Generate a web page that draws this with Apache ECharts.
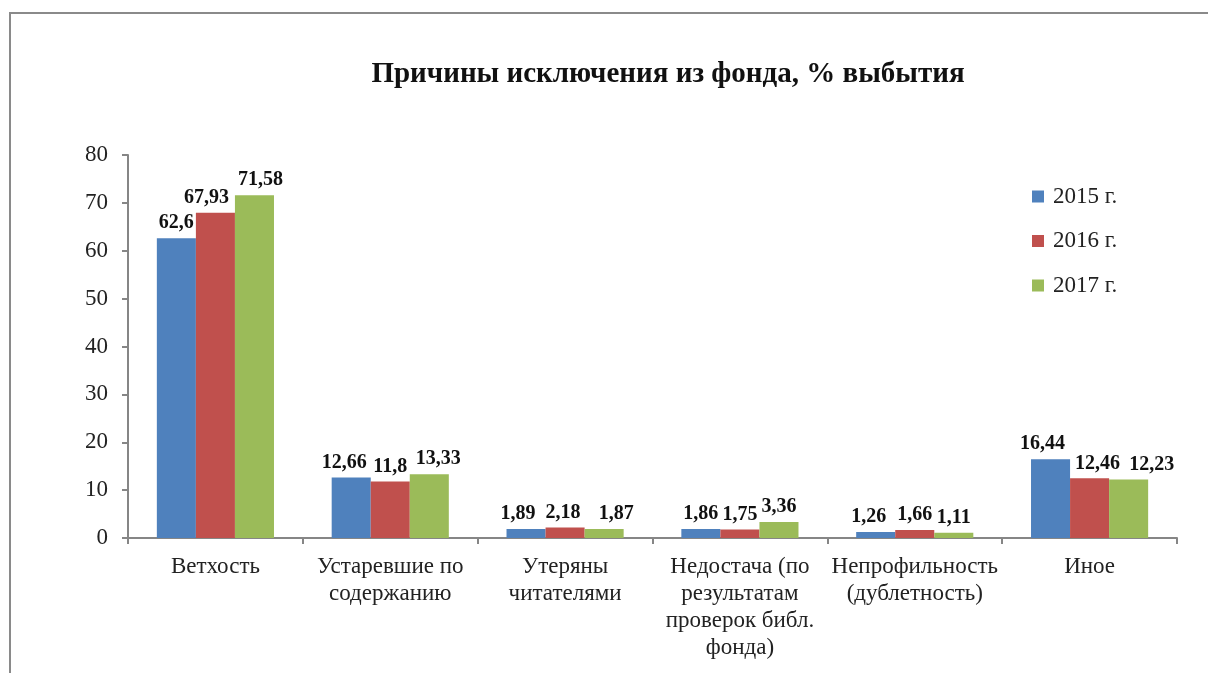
<!DOCTYPE html>
<html lang="ru">
<head>
  <meta charset="UTF-8">
  <title>Причины исключения из фонда</title>
  <script src="https://cdn.jsdelivr.net/npm/echarts@6/dist/echarts.min.js"></script>
  <style>
    html, body { margin: 0; padding: 0; background: #fff; }
    #frame { position: absolute; left: 9px; top: 12px; width: 1199px; height: 661px;
             border-left: 2px solid #8a8a8a; border-top: 2px solid #8a8a8a; box-sizing: border-box; }
    #main { position: absolute; left: 0; top: 0; width: 1208px; height: 673px; }
  </style>
</head>
<body>
  <div id="frame"></div>
  <div id="main"></div>
  <script>
    // данные графика
    const categories = [
      'Ветхость',
      'Устаревшие по\nсодержанию',
      'Утеряны\nчитателями',
      'Недостача (по\nрезультатам\nпроверок библ.\nфонда)',
      'Непрофильность\n(дублетность)',
      'Иное'
    ];
    const years = ['2015 г.', '2016 г.', '2017 г.'];
    const values2015 = [62.6, 12.66, 1.89, 1.86, 1.26, 16.44];
    const values2016 = [67.93, 11.8, 2.18, 1.75, 1.66, 12.46];
    const values2017 = [71.58, 13.33, 1.87, 3.36, 1.11, 12.23];
    const yTicks = [0, 10, 20, 30, 40, 50, 60, 70, 80];

    const colors = ['#4F81BD', '#C0504D', '#9BBB59'];
    const font = '"Liberation Serif", "Times New Roman", serif';

    // сдвиг подписей, чтобы они не наезжали друг на друга (как в исходнике)
    const labelShift = [
      [0, -7, -8, 0, -7, -8],
      [-9, 0, -2, 0, 0, 8],
      [6, 9, 12, 0, 0, 23]
    ];

    var myChart = echarts.init(document.getElementById('main'));

    const makeSeries = (name, data, i) => ({
      name: name,
      type: 'bar',
      data: data.map((v, j) => ({
        value: v,
        label: { offset: [labelShift[i][j], 0] }
      })),
      barGap: '0%',
      barCategoryGap: '33%',
      itemStyle: { color: colors[i] },
      label: {
        show: true,
        position: 'top',
        distance: 5,
        color: '#111',
        fontFamily: font,
        fontWeight: 'bold',
        fontSize: 20,
        formatter: p => String(p.value).replace('.', ',')
      }
    });

    const option = {
      animation: false,
      color: colors,
      title: {
        text: 'Причины исключения из фонда, % выбытия',
        left: 663,
        top: 55,
        textAlign: 'center',
        textStyle: { fontFamily: font, fontWeight: 'bold', fontSize: 29, color: '#111' }
      },
      legend: {
        orient: 'vertical',
        left: 1027,
        top: 180,
        itemWidth: 12,
        itemHeight: 12,
        itemGap: 21.5,
        icon: 'rect',
        textStyle: { fontFamily: font, fontSize: 23, color: '#222', padding: [0, 0, 0, 4] },
        data: years
      },
      grid: { left: 128, top: 155, right: 31, bottom: 135, containLabel: false },
      xAxis: {
        type: 'category',
        data: categories,
        axisLine: { lineStyle: { color: '#868686', width: 2 } },
        axisTick: { show: true, length: 6, lineStyle: { color: '#868686', width: 2 } },
        axisLabel: {
          interval: 0,
          margin: 15,
          fontFamily: font,
          fontSize: 23,
          lineHeight: 27,
          color: '#222'
        }
      },
      yAxis: {
        type: 'value',
        min: yTicks[0],
        max: yTicks[yTicks.length - 1],
        interval: 10,
        splitLine: { show: false },
        axisLine: { show: true, lineStyle: { color: '#868686', width: 2 } },
        axisTick: { show: true, length: 6, lineStyle: { color: '#868686', width: 2 } },
        axisLabel: { margin: 20, fontFamily: font, fontSize: 23, color: '#222' }
      },
      series: [
        makeSeries(years[0], values2015, 0),
        makeSeries(years[1], values2016, 1),
        makeSeries(years[2], values2017, 2)
      ]
    };

    myChart.setOption(option);
  </script>
</body>
</html>
